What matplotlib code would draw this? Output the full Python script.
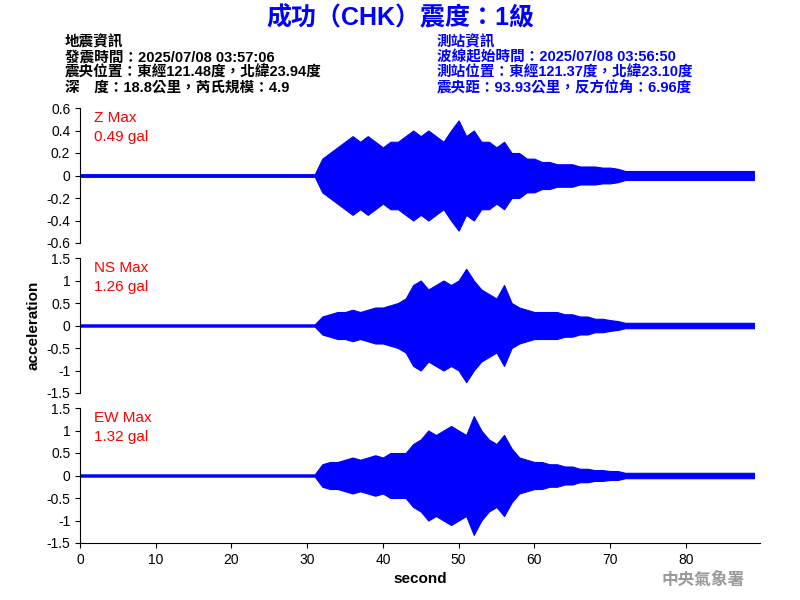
import matplotlib
matplotlib.use("Agg")
import matplotlib.pyplot as plt
import numpy as np

plt.rcParams['font.family'] = ['Liberation Sans', 'Noto Sans CJK TC', 'DejaVu Sans']

# per-second peak amplitudes (gal), t = 0..89 s
seconds = np.arange(90)
z_amp = [0.012] * 32 + [0.15, 0.2, 0.25, 0.3, 0.35, 0.3, 0.35, 0.3, 0.25, 0.3,
                        0.3, 0.35, 0.4, 0.35, 0.4, 0.35, 0.3, 0.4, 0.49, 0.35,
                        0.4, 0.3, 0.3, 0.25, 0.3, 0.2, 0.2, 0.15, 0.15, 0.12,
                        0.12, 0.1, 0.1, 0.1, 0.08, 0.08, 0.08, 0.07, 0.07, 0.06] + [0.04] * 18
ns_amp = [0.025] * 32 + [0.2, 0.25, 0.3, 0.3, 0.35, 0.3, 0.35, 0.4, 0.4, 0.45,
                         0.5, 0.6, 0.9, 1.0, 0.8, 0.9, 1.0, 0.9, 1.0, 1.26,
                         1.0, 0.8, 0.7, 0.6, 0.9, 0.5, 0.4, 0.35, 0.3, 0.3,
                         0.3, 0.3, 0.25, 0.25, 0.2, 0.2, 0.15, 0.15, 0.12, 0.1] + [0.06] * 18
ew_amp = [0.025] * 32 + [0.25, 0.3, 0.3, 0.35, 0.4, 0.35, 0.4, 0.45, 0.4, 0.5,
                         0.5, 0.5, 0.7, 0.8, 1.0, 0.9, 1.0, 1.1, 1.0, 0.9,
                         1.32, 1.0, 0.8, 0.7, 0.9, 0.6, 0.4, 0.35, 0.3, 0.3,
                         0.25, 0.25, 0.2, 0.2, 0.15, 0.15, 0.12, 0.12, 0.1, 0.1] + [0.06] * 18

channels = [("Z Max", "0.49 gal", z_amp, 0.6, [-0.6, -0.4, -0.2, 0, 0.2, 0.4, 0.6]),
            ("NS Max", "1.26 gal", ns_amp, 1.5, [-1.5, -1, -0.5, 0, 0.5, 1, 1.5]),
            ("EW Max", "1.32 gal", ew_amp, 1.5, [-1.5, -1, -0.5, 0, 0.5, 1, 1.5])]

fig = plt.figure(figsize=(8, 6), dpi=100)
tops = [108, 258, 408]
for i, (name, peak, amp, lim, ticks) in enumerate(channels):
    top = tops[i]
    ax = fig.add_axes([80 / 800, 1 - (top + 135) / 600, 680 / 800, 135 / 600])
    amp = np.array(amp)
    ax.fill_between(seconds, -amp, amp, color="blue", lw=0.8)
    ax.set_xlim(0, 89.8)
    ax.set_ylim(-lim, lim)
    ax.set_yticks(ticks)
    ax.set_yticklabels([f"{t:g}" for t in ticks])
    for s in ["top", "right"]:
        ax.spines[s].set_visible(False)
    ax.tick_params(labelsize=10)
    if i < 2:
        ax.spines["bottom"].set_visible(False)
        ax.set_xticks([])
    else:
        ax.set_xticks(range(0, 90, 10))
        ax.set_xlabel("second", fontsize=11, fontweight="bold")
    if i == 1:
        ax.set_ylabel("acceleration", fontsize=11, fontweight="bold")
    ax.text(0.02, 0.98, name + "\n" + peak, transform=ax.transAxes, color="red",
            fontsize=11, va="top", linespacing=1.45)

fig.text(0.5, 1 - 18 / 600, "成功（CHK）震度：1級", ha="center", va="center",
         color="blue", fontsize=18, fontweight="bold")
left_info = "地震資訊\n發震時間：2025/07/08 03:57:06\n震央位置：東經121.48度，北緯23.94度\n深　度：18.8公里，芮氏規模：4.9"
right_info = "測站資訊\n波線起始時間：2025/07/08 03:56:50\n測站位置：東經121.37度，北緯23.10度\n震央距：93.93公里，反方位角：6.96度"
fig.text(65 / 800, 1 - 35 / 600, left_info, ha="left", va="top", fontsize=10.5,
         fontweight="bold", linespacing=1.1)
fig.text(437 / 800, 1 - 35 / 600, right_info, ha="left", va="top", fontsize=10.5,
         fontweight="bold", color="blue", linespacing=1.1)
fig.text(745 / 800, 1 - 580 / 600, "中央氣象署", ha="right", va="center",
         fontsize=12, color="#999999", fontweight="bold")

fig.savefig("out.png", dpi=100)
